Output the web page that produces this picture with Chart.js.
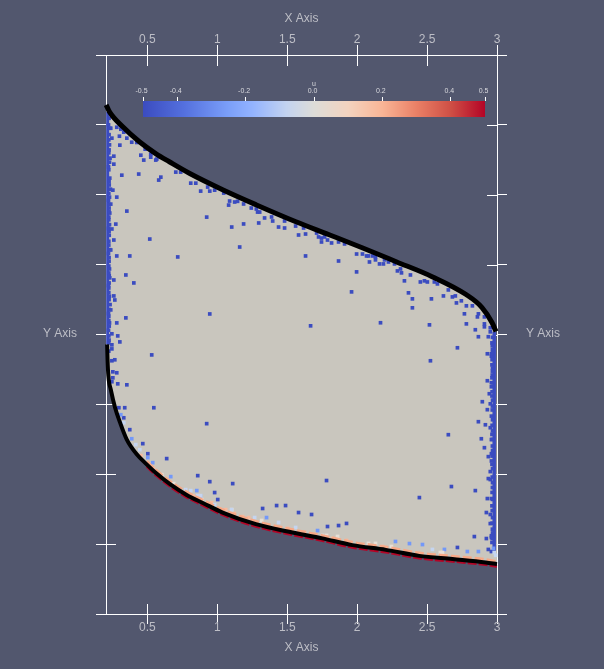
<!DOCTYPE html>
<html>
<head>
<meta charset="utf-8">
<title>u</title>
<script src="https://cdn.jsdelivr.net/npm/chart.js@4/dist/chart.umd.min.js"></script>
<style>
    html, body { margin: 0; padding: 0; background: #52576e; overflow: hidden; }
    canvas { position: absolute; }
    #mainChart { left: 0; top: 0; }
    #colorBar { left: 123px; top: 78px; }
</style>
</head>
<body>
<canvas id="mainChart" width="604" height="669"></canvas>
<canvas id="colorBar" width="383" height="39"></canvas>
<script>
const xTicks = [0.5, 1, 1.5, 2, 2.5, 3];
const yTicks = [-2, -1.5, -1, -0.5, 0, 0.5, 1, 1.5, 2];
const uTicks = [-0.5, -0.4, -0.2, 0, 0.2, 0.4, 0.5];
const uLabels = ['-0.5', '-0.4', '-0.2', '0.0', '0.2', '0.4', '0.5'];

const gradientStops = [0, 0.12, 0.25, 0.32, 0.42, 0.5, 0.6, 0.7, 0.8, 0.9, 1];
const gradientColors = ['#3b4cc0', '#5470de', '#7b9ff9', '#93b3ff', '#c3d3f0', '#dddcd8', '#f3d3bf', '#f9b596', '#ea8066', '#cf4f45', '#b40426'];

const topX = [0.205, 0.229, 0.324, 0.443, 0.562, 0.657, 0.8, 1.038, 1.276, 1.562, 1.8, 2.036, 2.279, 2.536, 2.779, 2.893, 2.964, 2.993];
const topY = [1.643, 1.593, 1.486, 1.379, 1.293, 1.236, 1.154, 1.036, 0.929, 0.807, 0.714, 0.621, 0.521, 0.414, 0.286, 0.193, 0.086, 0.021];

const bottomX = [0.212, 0.215, 0.221, 0.238, 0.269, 0.305, 0.352, 0.424, 0.495, 0.566, 0.662, 0.781, 0.9, 1.038, 1.276, 1.514, 1.752, 1.966, 2.205, 2.443, 2.681, 2.919, 3.0];
const bottomY = [-0.071, -0.179, -0.298, -0.393, -0.524, -0.631, -0.75, -0.857, -0.929, -0.995, -1.071, -1.148, -1.207, -1.274, -1.357, -1.412, -1.459, -1.507, -1.541, -1.584, -1.607, -1.631, -1.643];

const edgeX = [0.495, 0.566, 0.662, 0.781, 0.9, 1.038, 1.276, 1.514, 1.752, 1.966, 2.205, 2.443, 2.681, 2.919, 3.0];
const redY = [-0.945, -1.012, -1.088, -1.165, -1.224, -1.291, -1.374, -1.429, -1.476, -1.524, -1.558, -1.601, -1.624, -1.648, -1.66];
const salmonY = [-0.908, -0.975, -1.051, -1.128, -1.187, -1.254, -1.337, -1.392, -1.439, -1.487, -1.521, -1.564, -1.587, -1.611, -1.625];

const leftWallX = [0.216, 0.216];
const leftWallY = [1.593, -0.07];
const rightWallX = [2.98, 2.98];
const rightWallY = [0.02, -1.55];

const blueX = [
    0.281, 0.246, 0.3, 0.353, 0.388, 0.303, 0.424, 0.453, 0.474, 0.524, 0.56, 0.484, 0.26, 0.26, 0.317, 0.438, 0.596, 0.581, 0.703, 0.738,
    0.81, 0.846, 0.881, 0.946, 0.931, 1.046, 1.088, 1.081, 1.103, 0.924, 0.253, 0.281, 0.238, 0.353, 0.274, 0.246, 0.26, 0.517, 0.238, 0.281,
    0.374, 0.717, 0.346, 0.26, 0.403, 0.26, 0.267, 0.238, 0.946, 0.346, 0.281, 0.246, 0.288, 0.31, 0.331, 0.238, 0.567, 0.524, 0.981,
    0.303, 0.531, 0.246, 0.246, 0.224, 0.267, 0.246, 0.253, 0.281, 0.253, 0.246, 0.288, 0.353, 0.296, 0.338, 0.546, 0.331, 0.374, 0.467, 0.503, 0.638,
    0.924, 0.86, 0.946, 1.11, 0.981, 1.003,
    1.124, 1.145, 1.188, 1.243, 1.279, 1.288, 1.303, 1.338, 1.388, 1.396, 1.296, 1.188, 1.438, 1.481, 1.481, 1.56, 1.581, 1.631, 1.16, 1.631,
    1.724, 1.745, 1.745, 1.767, 1.788, 1.817, 1.867, 1.867, 1.91, 1.996, 1.996, 1.96, 2.038, 2.067, 2.081, 2.088, 2.11, 2.131, 2.131, 2.16,
    2.188, 2.196, 2.224, 2.267, 2.288, 2.31, 2.317, 2.338, 2.367, 2.167, 1.667, 1.617, 1.71,
    2.381, 2.452, 2.481, 2.502, 2.552, 2.574, 2.652, 2.617, 2.681, 2.702, 2.745, 2.71, 2.781, 2.824, 2.867, 2.86, 2.767, 2.781, 2.91, 2.91,
    2.845, 2.867, 2.952, 2.952, 2.938, 2.395, 2.531, 2.395, 2.517, 2.717, 2.524, 2.931, 2.96, 2.91,
    2.931, 2.96, 2.945, 2.895, 2.952, 2.931, 2.867, 2.917, 2.952, 2.652, 2.888, 2.96, 2.91, 2.938, 2.96, 2.952, 2.938, 2.952, 2.674, 2.845,
    2.931, 2.96, 2.445, 2.924, 2.952, 2.952, 2.838, 2.924, 2.96, 2.717, 2.938, 2.96,
    1.781, 1.324, 1.424, 1.488, 1.581, 1.674, 1.788, 1.867, 1.924
];
const blueY = [
    1.483, 1.405, 1.419, 1.405, 1.376, 1.355, 1.374, 1.283, 1.248, 1.269, 1.248, 1.326, 1.276, 1.219, 1.14, 1.148, 1.126, 1.105, 1.162, 1.162,
    1.083, 1.083, 1.026, 1.026, 1.055, 1.012, 0.955, 0.926, 0.769, 0.84, 1.033, 0.983, 0.933, 0.883, 0.79, 0.755, 0.676, 0.683, 0.605, 0.562,
    0.562, 0.555, 0.426, 0.39, 0.369, 0.276, 0.247, 0.176, 0.147, 0.119, 0.083, 0.005, -0.01, 1.469, 1.448, 1.476, 1.255, 1.29, 1.033,
    -0.053, -0.146, -0.074, -0.103, -0.119, -0.181, -0.188, -0.267, -0.274, -0.31, -0.338, -0.353, -0.36, -0.524, -0.524, -0.524, -0.596, -0.681, -0.781, -0.853, -0.888,
    -0.638, -1.01, -1.053, -1.067, -1.131, -1.181,
    0.948, 0.953, 0.934, 0.905, 0.898, 0.876, 0.876, 0.834, 0.841, 0.812, 0.798, 0.791, 0.769, 0.762, 0.812, 0.776, 0.712, 0.719, 0.626, 0.562,
    0.698, 0.69, 0.662, 0.698, 0.676, 0.655, 0.526, 0.662, 0.648, 0.576, 0.448, 0.305, 0.576, 0.562, 0.562, 0.519, 0.562, 0.555, 0.534, 0.505,
    0.505, 0.534, 0.519, 0.505, 0.455, 0.469, 0.441, 0.384, 0.298, 0.084, 0.062, 0.762, 0.726,
    0.426, 0.376, 0.384, 0.376, 0.376, 0.362, 0.319, 0.276, 0.269, 0.276, 0.241, 0.226, 0.205, 0.205, 0.148, 0.126, 0.148, 0.076, 0.076, 0.055,
    0.034, -0.016, 0.048, 0.019, -0.016, 0.255, 0.255, 0.191, 0.069, -0.095, -0.188, -0.138, -0.138, 0.126,
    -0.331, -0.374, -0.424, -0.481, -0.496, -0.538, -0.624, -0.646, -0.667, -0.717, -0.746, -0.752, -0.81, -0.874, -0.853, -0.981, -1.031, -1.038, -1.088, -1.117,
    -1.174, -1.174, -1.167, -1.274, -1.288, -1.353, -1.446, -1.46, -1.453, -1.524, -1.538, -1.553,
    -1.045, -1.245, -1.224, -1.224, -1.274, -1.288, -1.374, -1.367, -1.352
];

// jagged edge along both walls
const leftEdgeX = [
    0.226, 0.231, 0.224, 0.229, 0.226, 0.233, 0.229, 0.224, 0.231, 0.226, 0.236, 0.229, 0.224, 0.226, 0.231, 0.224, 0.229, 0.226, 0.224, 0.231, 0.226, 0.229, 0.224, 0.231, 0.226, 0.224, 0.229, 0.233, 0.226, 0.224, 0.229,
    0.222, 0.226, 0.224, 0.222, 0.227, 0.224, 0.222, 0.226, 0.224, 0.222, 0.227, 0.224, 0.222, 0.226, 0.224, 0.227, 0.222, 0.224, 0.226, 0.222, 0.224, 0.227, 0.222, 0.224, 0.226, 0.224
];
const leftEdgeY = [
    1.547, 1.476, 1.393, 1.357, 1.321, 1.262, 1.233, 1.179, 1.119, 1.095, 1.04, 0.983, 0.933, 0.905, 0.869, 0.821, 0.786, 0.738, 0.667, 0.607, 0.524, 0.469, 0.44, 0.405, 0.369, 0.333, 0.274, 0.214, 0.179, 0.131, 0.083,
    1.5, 1.43, 1.3, 1.2, 1.07, 1.01, 0.96, 0.88, 0.84, 0.76, 0.71, 0.64, 0.58, 0.55, 0.49, 0.42, 0.35, 0.3, 0.25, 0.15, 0.1, 0.06, 0.03, -0.01, -0.04, -0.06
];
const rightEdgeX = [
    2.964, 2.967, 2.96, 2.964, 2.967, 2.964, 2.96, 2.964, 2.967, 2.96, 2.964, 2.967, 2.96, 2.964, 2.967, 2.964, 2.967, 2.96, 2.964,
    2.968, 2.966, 2.968, 2.965, 2.968, 2.966, 2.968, 2.965, 2.968, 2.966, 2.968, 2.965, 2.968, 2.966, 2.968, 2.965, 2.968, 2.966, 2.968, 2.965, 2.968, 2.966, 2.968, 2.965, 2.968, 2.966
];
const rightEdgeY = [
    -0.06, -0.107, -0.155, -0.217, -0.262, -0.31, -0.345, -0.44, -0.512, -0.584, -0.715, -0.798, -0.905, -0.929, -1.095, -1.226, -1.393, -1.44, -1.488,
    -0.02, -0.08, -0.13, -0.18, -0.24, -0.29, -0.37, -0.41, -0.47, -0.54, -0.61, -0.65, -0.69, -0.75, -0.83, -0.87, -0.96, -1.02, -1.06, -1.13, -1.18, -1.26, -1.31, -1.35, -1.42, -1.46
];

const midBlueX = [0.31, 0.388, 0.503, 0.538, 0.667, 0.853, 0.879, 1.352, 1.717, 2.274, 2.374, 2.467, 2.624, 2.788, 2.867, 2.975];
const midBlueY = [-0.574, -0.746, -0.881, -0.917, -1.017, -1.117, -1.155, -1.31, -1.403, -1.481, -1.496, -1.503, -1.538, -1.553, -1.553, -1.53];
const paleX = [0.331, 0.417, 0.446, 0.774, 0.81, 0.881, 0.86, 0.981, 1.102, 1.267, 1.438, 1.56, 2.538, 2.98, 2.99];
const paleY = [-0.631, -0.788, -0.824, -1.11, -1.117, -1.153, -1.153, -1.217, -1.253, -1.31, -1.345, -1.381, -1.538, -1.56, -1.58];
const creamX = [0.603, 0.688, 0.888, 1.103, 1.317, 1.752, 1.781, 1.86, 2.081, 2.131, 2.245, 2.595, 2.61];
const creamY = [-1.003, -1.067, -1.181, -1.253, -1.331, -1.438, -1.438, -1.445, -1.495, -1.495, -1.517, -1.56, -1.56];
const lightSalmonX = [0.453, 0.543, 0.829, 0.96, 1.019, 1.06, 1.121, 1.181, 1.224, 1.502, 1.624, 1.695, 1.824, 1.924, 2.181];
const lightSalmonY = [-0.867, -0.96, -1.155, -1.203, -1.25, -1.253, -1.281, -1.303, -1.31, -1.388, -1.417, -1.431, -1.46, -1.474, -1.517];

const axisColor = '#ffffff';
const labelColor = '#bdbec6';
const labelFont = { family: '"Liberation Sans", Arial, sans-serif', size: 12 };

function toPoints(xs, ys) {
    return xs.map(function (x, i) {
        return { x: x, y: ys[i] };
    });
}

function fixedTicks(values) {
    return function (scale) {
        scale.ticks = values.map(function (v) {
            return { value: v };
        });
    };
}

function curve(xs, ys, color, width, order, extra) {
    return Object.assign({
        data: toPoints(xs, ys),
        showLine: true,
        borderColor: color,
        borderWidth: width,
        pointRadius: 0,
        cubicInterpolationMode: 'monotone',
        clip: false,
        order: order
    }, extra);
}

function dots(xs, ys, color, order) {
    return {
        data: toPoints(xs, ys),
        showLine: false,
        pointStyle: 'rect',
        pointRadius: 2.6,
        pointBorderWidth: 0,
        backgroundColor: color,
        clip: false,
        order: order
    };
}

// tick marks inside the box and the horizontal Y Axis captions
const insideTicks = {
    id: 'insideTicks',
    beforeDatasetsDraw: function (chart) {
        const ctx = chart.ctx;
        const area = chart.chartArea;
        ctx.save();
        ctx.strokeStyle = axisColor;
        ctx.lineWidth = 1;
        ctx.beginPath();
        xTicks.forEach(function (v) {
            const px = Math.round(chart.scales.x.getPixelForValue(v)) + 0.5;
            ctx.moveTo(px, area.top);
            ctx.lineTo(px, area.top + 11);
            ctx.moveTo(px, area.bottom - 10);
            ctx.lineTo(px, area.bottom);
        });
        yTicks.forEach(function (v) {
            const py = Math.round(chart.scales.y.getPixelForValue(v)) + 0.5;
            ctx.moveTo(area.left, py);
            ctx.lineTo(area.left + 10, py);
            ctx.moveTo(area.right - 10, py);
            ctx.lineTo(area.right, py);
        });
        ctx.stroke();
        ctx.restore();
    },
    afterDraw: function (chart) {
        const ctx = chart.ctx;
        const area = chart.chartArea;
        const mid = chart.scales.y.getPixelForValue(0) - 1;
        ctx.save();
        ctx.fillStyle = labelColor;
        ctx.font = labelFont.size + 'px ' + labelFont.family;
        ctx.textAlign = 'center';
        ctx.textBaseline = 'middle';
        ctx.fillText('Y Axis', area.left - 46, mid);
        ctx.fillText('Y Axis', area.right + 46, mid);
        ctx.restore();
    }
};

function horizontalAxis(position, size, titlePadding, labelPadding) {
    return {
        type: 'linear',
        position: position,
        min: 0.204,
        max: 3,
        afterBuildTicks: fixedTicks(xTicks),
        afterFit: function (scale) { scale.height = size; },
        border: { display: true, color: axisColor, width: 1 },
        grid: { drawOnChartArea: false, drawTicks: true, tickLength: 10, color: axisColor, tickColor: axisColor },
        ticks: {
            color: labelColor,
            font: labelFont,
            padding: labelPadding,
            maxRotation: 0,
            callback: function (v) { return String(v); }
        },
        title: { display: true, text: 'X Axis', color: labelColor, font: labelFont, padding: titlePadding }
    };
}

function verticalAxis(position, size) {
    return {
        type: 'linear',
        position: position,
        min: -2,
        max: 2,
        afterBuildTicks: fixedTicks(yTicks),
        afterFit: function (scale) { scale.width = size; },
        border: { display: true, color: axisColor, width: 1 },
        grid: { drawOnChartArea: false, drawTicks: true, tickLength: 10, color: axisColor, tickColor: axisColor },
        ticks: { display: false }
    };
}

new Chart(document.querySelector('#mainChart'), {
    type: 'scatter',
    data: {
        datasets: [
            curve(topX, topY, '#000000', 5, 1),
            curve(bottomX, bottomY, '#000000', 4, 1),
            curve(edgeX, redY, '#b40426', 2.5, 2, { borderDash: [9, 2] }),
            curve(edgeX, salmonY, '#f7a988', 3, 3, { borderDash: [9, 3] }),
            dots(paleX, paleY, '#c5d5f0', 4),
            dots(creamX, creamY, '#e6dfd6', 4),
            dots(lightSalmonX, lightSalmonY, '#f7b99d', 4),
            dots(midBlueX, midBlueY, '#7398f8', 4),
            dots(blueX, blueY, '#3b4cc0', 5),
            dots(leftEdgeX, leftEdgeY, '#3b4cc0', 5),
            dots(rightEdgeX, rightEdgeY, '#3b4cc0', 5),
            curve(leftWallX, leftWallY, '#3b4cc0', 3, 6),
            curve(rightWallX, rightWallY, '#3b4cc0', 3.5, 6),
            {
                data: toPoints(topX.concat(bottomX.slice().reverse()), topY.concat(bottomY.slice().reverse())),
                showLine: true,
                borderWidth: 0,
                pointRadius: 0,
                backgroundColor: '#c9c6be',
                fill: 'shape',
                order: 7
            }
        ]
    },
    options: {
        responsive: false,
        animation: false,
        layout: { padding: 0 },
        plugins: { legend: { display: false }, tooltip: { enabled: false } },
        scales: {
            x: horizontalAxis('bottom', 55, { top: 0, bottom: 14 }, -4),
            xTop: horizontalAxis('top', 55, { top: 11, bottom: 0 }, -2),
            y: verticalAxis('left', 106),
            yRight: verticalAxis('right', 107)
        }
    },
    plugins: [insideTicks]
});

new Chart(document.querySelector('#colorBar'), {
    type: 'bar',
    data: {
        labels: ['u'],
        datasets: [{
            data: [[-0.5, 0.5]],
            barPercentage: 1,
            categoryPercentage: 1,
            borderWidth: 0,
            backgroundColor: function (context) {
                const area = context.chart.chartArea;
                if (!area) {
                    return gradientColors[0];
                }
                const gradient = context.chart.ctx.createLinearGradient(area.left, 0, area.right, 0);
                gradientStops.forEach(function (stop, i) {
                    gradient.addColorStop(stop, gradientColors[i]);
                });
                return gradient;
            }
        }]
    },
    options: {
        indexAxis: 'y',
        responsive: false,
        animation: false,
        layout: { padding: { left: 20, right: 21, top: 0, bottom: 0 } },
        plugins: { legend: { display: false }, tooltip: { enabled: false } },
        scales: {
            x: {
                type: 'linear',
                position: 'top',
                min: -0.5,
                max: 0.5,
                afterBuildTicks: fixedTicks(uTicks),
                afterFit: function (scale) { scale.height = 23; },
                border: { display: false },
                grid: { drawOnChartArea: false, drawTicks: true, tickLength: 4, tickColor: axisColor },
                ticks: {
                    color: '#d8d9de',
                    font: { family: labelFont.family, size: 7 },
                    padding: 2,
                    labelOffset: -1.5,
                    maxRotation: 0,
                    autoSkip: false,
                    callback: function (v) { return uLabels[uTicks.indexOf(v)]; }
                },
                title: {
                    display: true,
                    text: 'u',
                    color: '#d8d9de',
                    font: { family: labelFont.family, size: 7 },
                    padding: { top: 2, bottom: 0 }
                }
            },
            y: { display: false }
        }
    }
});
</script>
</body>
</html>
